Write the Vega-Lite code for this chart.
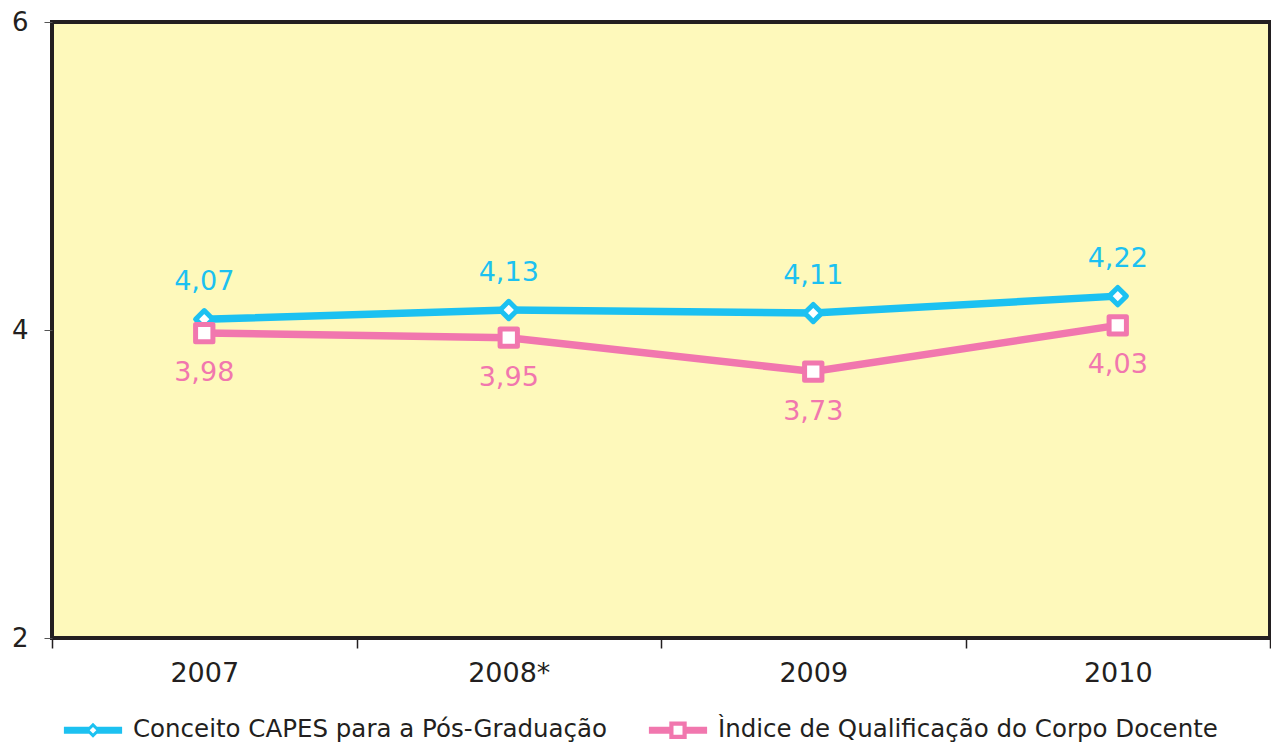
{
  "$schema": "https://vega.github.io/schema/vega-lite/v6.json",
  "width": 1218,
  "height": 616,
  "autosize": {"type": "none"},
  "padding": {"left": 52, "top": 22, "right": 1, "bottom": 107},
  "background": "#ffffff",
  "config": {
    "font": "DejaVu Sans",
    "view": {"stroke": "#231f20", "strokeWidth": 4, "fill": "#fef9bb"},
    "locale": {"number": {"decimal": ",", "thousands": ".", "grouping": [3], "currency": ["R$", ""]}}
  },
  "data": {
    "values": [
      {"ano": "2007", "serie": "Conceito CAPES para a Pós-Graduação", "valor": 4.07},
      {"ano": "2008*", "serie": "Conceito CAPES para a Pós-Graduação", "valor": 4.13},
      {"ano": "2009", "serie": "Conceito CAPES para a Pós-Graduação", "valor": 4.11},
      {"ano": "2010", "serie": "Conceito CAPES para a Pós-Graduação", "valor": 4.22},
      {"ano": "2007", "serie": "Ìndice de Qualificação do Corpo Docente", "valor": 3.98},
      {"ano": "2008*", "serie": "Ìndice de Qualificação do Corpo Docente", "valor": 3.95},
      {"ano": "2009", "serie": "Ìndice de Qualificação do Corpo Docente", "valor": 3.73},
      {"ano": "2010", "serie": "Ìndice de Qualificação do Corpo Docente", "valor": 4.03}
    ]
  },
  "encoding": {
    "x": {
      "field": "ano", "type": "nominal", "sort": null,
      "scale": {"type": "band", "paddingInner": 0, "paddingOuter": 0},
      "axis": {"title": null, "domain": false, "tickBand": "extent", "tickSize": 10, "tickColor": "#231f20", "tickWidth": 1.5,
               "labelAngle": 0, "labelFontSize": 27, "labelColor": "#231f20", "labelPadding": 12, "grid": false}
    },
    "y": {
      "field": "valor", "type": "quantitative",
      "scale": {"domain": [2, 6], "nice": false, "zero": false},
      "axis": {"title": null, "values": [2, 4, 6], "format": "d", "domain": false, "grid": false, "tickSize": 8, "tickColor": "#555555",
               "labelFontSize": 26, "labelColor": "#231f20", "labelPadding": 16}
    }
  },
  "layer": [
    {
      "mark": {"type": "line", "strokeWidth": 7.5, "strokeCap": "round"},
      "encoding": {
        "color": {
          "field": "serie", "type": "nominal",
          "scale": {"domain": ["Conceito CAPES para a Pós-Graduação", "Ìndice de Qualificação do Corpo Docente"], "range": ["#1cc1f1", "#f177ae"]},
          "legend": {
            "orient": "none", "legendX": 11, "legendY": 678, "direction": "horizontal", "title": null,
            "labelFontSize": 24.5, "labelColor": "#231f20", "labelLimit": 0, "labelOffset": 10,
            "symbolSize": 3600, "columnPadding": 40,
            "encode": {
              "symbols": {
                "update": {
                  "shape": {"signal": "datum.value == 'Conceito CAPES para a Pós-Graduação' ? 'M-0.97,-0.12L-0.12,-0.12L-0.12,0.12L-0.97,0.12Z M0.12,-0.12L0.97,-0.12L0.97,0.12L0.12,0.12Z M0,-0.25L0.25,0L0,0.25L-0.25,0Z M0,-0.11L-0.11,0L0,0.11L0.11,0Z' : 'M-0.97,-0.12L-0.17,-0.12L-0.17,0.12L-0.97,0.12Z M0.17,-0.12L0.97,-0.12L0.97,0.12L0.17,0.12Z M-0.29,-0.29L0.29,-0.29L0.29,0.29L-0.29,0.29Z M-0.15,-0.15L-0.15,0.15L0.15,0.15L0.15,-0.15Z'"},
                  "fill": {"signal": "scale('color', datum.value)"},
                  "fillOpacity": {"value": 1},
                  "strokeWidth": {"value": 0}
                }
              }
            }
          }
        }
      }
    },
    {
      "transform": [{"filter": "datum.serie == 'Conceito CAPES para a Pós-Graduação'"}],
      "mark": {"type": "point", "shape": "diamond", "filled": true, "fill": "#ffffff", "stroke": "#1cc1f1", "strokeWidth": 5, "opacity": 1, "strokeJoin": "round", "size": 300}
    },
    {
      "transform": [{"filter": "datum.serie == 'Ìndice de Qualificação do Corpo Docente'"}],
      "mark": {"type": "point", "shape": "square", "filled": true, "fill": "#ffffff", "stroke": "#f177ae", "strokeWidth": 5, "opacity": 1, "strokeJoin": "round", "size": 300}
    },
    {
      "transform": [{"filter": "datum.serie == 'Conceito CAPES para a Pós-Graduação'"}],
      "mark": {"type": "text", "dy": -37, "fontSize": 27, "color": "#1cc1f1"},
      "encoding": {"text": {"field": "valor", "type": "quantitative", "format": ".2f"}}
    },
    {
      "transform": [{"filter": "datum.serie == 'Ìndice de Qualificação do Corpo Docente'"}],
      "mark": {"type": "text", "dy": 40, "fontSize": 27, "color": "#f177ae"},
      "encoding": {"text": {"field": "valor", "type": "quantitative", "format": ".2f"}}
    }
  ]
}
